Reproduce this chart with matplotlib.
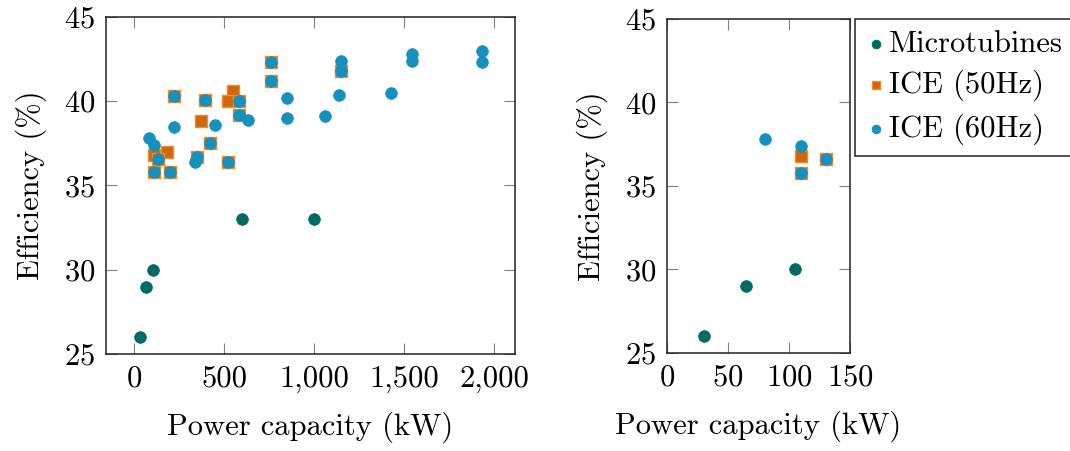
import matplotlib

matplotlib.use("Agg")
import matplotlib.pyplot as plt
from matplotlib.ticker import FuncFormatter, MultipleLocator

plt.rcParams["font.family"] = "cmr10"
plt.rcParams["mathtext.fontset"] = "cm"
plt.rcParams["axes.formatter.use_mathtext"] = True

# Efficiency vs. rated power per generator technology
micro_kw = [30, 65, 105, 600, 1000]
micro_eff = [26.0, 29.0, 30.0, 33.0, 33.0]

ice50_kw = [220, 391, 550, 522, 580, 580, 369, 420, 180, 110, 130, 346, 519,
            110, 198, 762, 762, 1148]
ice50_eff = [40.3, 40.1, 40.6, 40.0, 40.0, 39.2, 38.8, 37.5, 37.0, 36.8, 36.6,
             36.7, 36.4, 35.8, 35.8, 42.3, 41.2, 41.8]

ice60_kw = [80, 110, 130, 110, 198, 220, 220, 391, 448, 420, 346, 337, 519,
            580, 580, 634, 762, 762, 850, 850, 1060, 1140, 1148, 1148, 1425,
            1545, 1545, 1930, 1930]
ice60_eff = [37.8, 37.4, 36.6, 35.8, 35.8, 40.3, 38.5, 40.1, 38.6, 37.5, 36.7,
             36.4, 36.4, 40.0, 39.2, 38.9, 42.3, 41.2, 40.2, 39.0, 39.1, 40.4,
             42.4, 41.8, 40.5, 42.8, 42.4, 43.0, 42.3]

series_labels = ["Microtubines", "ICE (50Hz)", "ICE (60Hz)"]

TEAL = "#006b64"
ORANGE = "#d0660c"
ORANGE_EDGE = "#f28c28"
BLUE = "#1591bf"
FS = 22

fig = plt.figure(figsize=(10.7, 4.51), dpi=100)
ax_full = fig.add_axes([0.0991, 0.2151, 0.3822, 0.7472])
ax_zoom = fig.add_axes([0.6234, 0.2173, 0.1710, 0.7406])


def draw(ax):
    h1 = ax.scatter(micro_kw, micro_eff, s=70, marker="o", color=TEAL,
                    edgecolors=TEAL, linewidths=0.6, zorder=3)
    h2 = ax.scatter(ice50_kw, ice50_eff, s=68, marker="s", color=ORANGE,
                    edgecolors=ORANGE_EDGE, linewidths=1.0, zorder=4)
    h3 = ax.scatter(ice60_kw, ice60_eff, s=70, marker="o", color=BLUE,
                    edgecolors=BLUE, linewidths=0.6, zorder=5)
    ax.set_ylim(25, 45)
    ax.yaxis.set_major_locator(MultipleLocator(5))
    ax.set_xlabel("Power capacity (kW)", fontsize=FS, labelpad=14)
    ax.set_ylabel("Efficiency (%)", fontsize=FS, labelpad=12)
    ax.tick_params(direction="in", length=8, width=0.8, color="#808080",
                   top=True, right=True, labelsize=FS, pad=8)
    for sp in ax.spines.values():
        sp.set_linewidth(1.1)
        sp.set_color("#222222")
    return h1, h2, h3


handles = draw(ax_full)
ax_full.set_xlim(-157, 2115)
ax_full.xaxis.set_major_locator(MultipleLocator(500))
ax_full.xaxis.set_major_formatter(FuncFormatter(lambda v, _: f"{v:,.0f}"))

# zoomed view of the small units (< 150 kW)
draw(ax_zoom)
ax_zoom.set_xlim(0, 150)
ax_zoom.xaxis.set_major_locator(MultipleLocator(50))

leg = fig.legend(handles, series_labels, loc="upper left",
                 bbox_to_anchor=(0.799, 0.957), borderaxespad=0, fontsize=FS,
                 fancybox=False, framealpha=1, edgecolor="#222222",
                 handletextpad=0.05, handlelength=0.7, labelspacing=0.4,
                 borderpad=0.35, markerscale=0.75)
leg.get_frame().set_linewidth(1.1)

fig.savefig("out.png", dpi=100)
plt.close(fig)
